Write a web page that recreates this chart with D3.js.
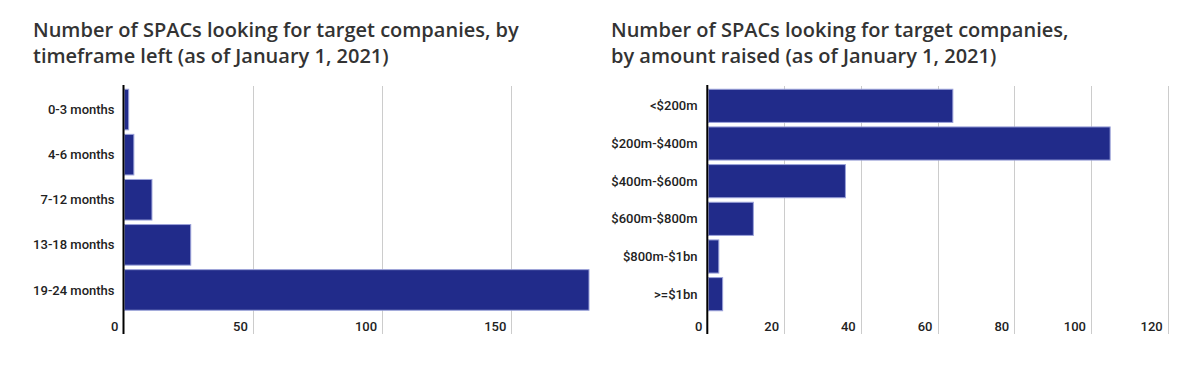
<!DOCTYPE html>
<html>
<head>
<meta charset="utf-8">
<script src="https://cdn.jsdelivr.net/npm/d3@7"></script>
<style>
  html, body { margin: 0; padding: 0; background: #fff; }
  svg { display: block; }
  .title { font-family: "Open Sans", sans-serif; font-weight: 600; font-size: 20px; fill: #333; }
  .cat { font-family: Roboto, sans-serif; font-weight: 500; font-size: 13px; fill: #222; }
  .tick-label { font-family: Roboto, sans-serif; font-weight: 500; font-size: 13px; fill: #222; }
</style>
</head>
<body>
<svg id="chart" width="1201" height="366"></svg>
<script>
// ---- Data ----
const leftTitle = ["Number of SPACs looking for target companies, by", "timeframe left (as of January 1, 2021)"];
const leftCategories = ["0-3 months", "4-6 months", "7-12 months", "13-18 months", "19-24 months"];
const leftValues = [2, 4, 11, 26, 180];
const leftTicks = [0, 50, 100, 150];
const leftMax = 180;

const rightTitle = ["Number of SPACs looking for target companies,", "by amount raised (as of January 1, 2021)"];
const rightCategories = ["<$200m", "$200m-$400m", "$400m-$600m", "$600m-$800m", "$800m-$1bn", ">=$1bn"];
const rightValues = [64, 105, 36, 12, 3, 4];
const rightTicks = [0, 20, 40, 60, 80, 100, 120];
const rightMax = 120;

// ---- Drawing ----
const svg = d3.select("#chart");
const BAR = "#212b8a";
const BAR_STROKE = "#9aa1d9";

function drawChart(opts) {
  const g = svg.append("g");
  const x = d3.scaleLinear().domain([0, opts.max]).range([opts.x0, opts.x1]);
  const y = d3.scaleBand().domain(opts.categories).range([opts.y0, opts.y1])
    .paddingInner(opts.padIn).paddingOuter(opts.padOut);

  // title
  g.selectAll("text.title").data(opts.title).join("text")
    .attr("class", "title")
    .attr("x", opts.titleX)
    .attr("y", (d, i) => 37 + i * 26)
    .text(d => d);

  // gridlines
  g.selectAll("line.grid").data(opts.ticks.filter(t => t > 0)).join("line")
    .attr("class", "grid")
    .attr("x1", d => Math.round(x(d)) + 0.5).attr("x2", d => Math.round(x(d)) + 0.5)
    .attr("y1", opts.gridTop).attr("y2", opts.gridBottom)
    .attr("stroke", "#cccccc").attr("stroke-width", 1);

  // tick labels
  g.selectAll("text.tick-label").data(opts.ticks).join("text")
    .attr("class", "tick-label")
    .attr("x", d => x(d) - 5)
    .attr("y", 330.5)
    .attr("text-anchor", "end")
    .text(d => d);

  // bars
  g.selectAll("rect.bar").data(opts.values).join("rect")
    .attr("class", "bar")
    .attr("x", x(0) + 1)
    .attr("y", (d, i) => y(opts.categories[i]))
    .attr("width", d => Math.max(0, x(d) - x(0) - 1))
    .attr("height", y.bandwidth())
    .attr("fill", BAR)
    .attr("stroke", BAR_STROKE)
    .attr("stroke-width", 1);

  // category labels
  g.selectAll("text.cat").data(opts.categories).join("text")
    .attr("class", "cat")
    .attr("x", opts.labelX)
    .attr("y", d => y(d) + y.bandwidth() / 2)
    .attr("dy", "0.35em")
    .attr("text-anchor", "end")
    .text(d => d);

  // zero axis line
  g.append("line")
    .attr("x1", x(0)).attr("x2", x(0))
    .attr("y1", opts.gridTop - 1).attr("y2", opts.gridBottom)
    .attr("stroke", "#000").attr("stroke-width", 2);
}

drawChart({
  title: leftTitle, titleX: 33,
  categories: leftCategories, values: leftValues, ticks: leftTicks, max: leftMax,
  x0: 123.5, x1: 589, y0: 87, y1: 312.5, padIn: 0.1, padOut: 0.05,
  gridTop: 86, gridBottom: 334, labelX: 114.5
});

drawChart({
  title: rightTitle, titleX: 611,
  categories: rightCategories, values: rightValues, ticks: rightTicks, max: rightMax,
  x0: 707.3, x1: 1167.7, y0: 87, y1: 313, padIn: 0.12, padOut: 0.06,
  gridTop: 86, gridBottom: 334, labelX: 697.5
});
</script>
</body>
</html>
